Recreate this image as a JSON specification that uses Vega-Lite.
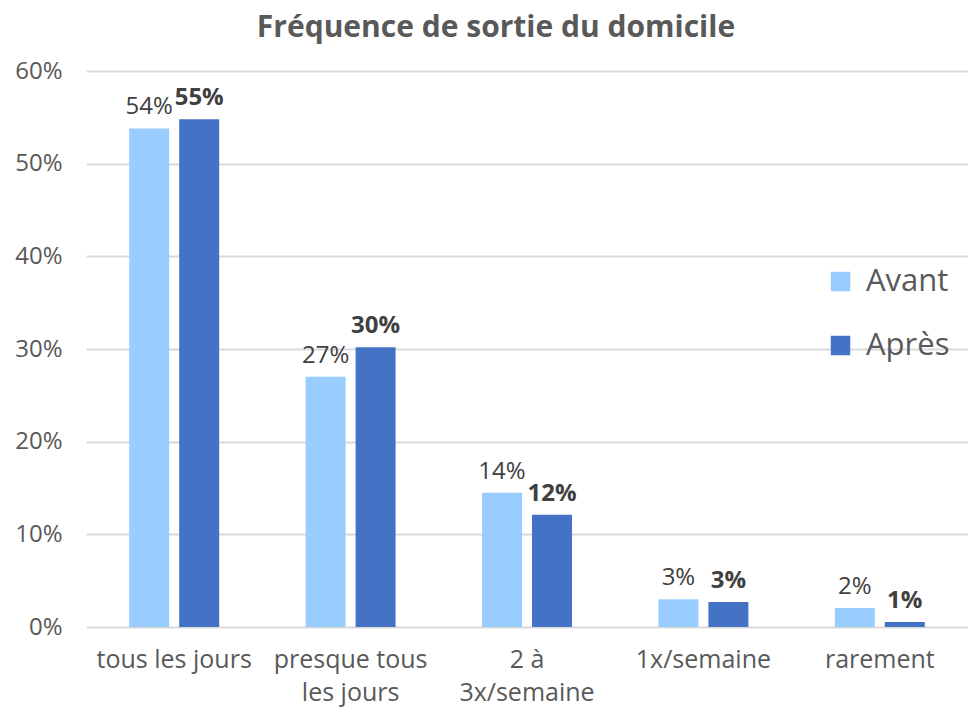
{
  "$schema": "https://vega.github.io/schema/vega-lite/v6.json",
  "width": 882,
  "height": 556,
  "autosize": {"type": "none"},
  "padding": {"left": 86, "top": 71, "right": 0, "bottom": 82},
  "background": "white",
  "title": {
    "text": "Fréquence de sortie du domicile",
    "font": "Open Sans",
    "fontSize": 30,
    "fontWeight": "bold",
    "color": "#595959",
    "anchor": "middle",
    "dx": -31,
    "offset": 16
  },
  "data": {
    "values": [
      {"categorie": "tous les jours", "serie": "Avant", "valeur": 0.538},
      {"categorie": "tous les jours", "serie": "Après", "valeur": 0.548},
      {"categorie": "presque tous les jours", "serie": "Avant", "valeur": 0.270},
      {"categorie": "presque tous les jours", "serie": "Après", "valeur": 0.302},
      {"categorie": "2 à 3x/semaine", "serie": "Avant", "valeur": 0.145},
      {"categorie": "2 à 3x/semaine", "serie": "Après", "valeur": 0.121},
      {"categorie": "1x/semaine", "serie": "Avant", "valeur": 0.030},
      {"categorie": "1x/semaine", "serie": "Après", "valeur": 0.027},
      {"categorie": "rarement", "serie": "Avant", "valeur": 0.0205},
      {"categorie": "rarement", "serie": "Après", "valeur": 0.0055}
    ]
  },
  "encoding": {
    "x": {
      "field": "categorie",
      "type": "nominal",
      "sort": ["tous les jours", "presque tous les jours", "2 à 3x/semaine", "1x/semaine", "rarement"],
      "scale": {"paddingInner": 0.49, "paddingOuter": 0.245},
      "axis": {
        "title": null,
        "labelAngle": 0,
        "labelFont": "Open Sans",
        "labelFontSize": 25,
        "labelColor": "#595959",
        "labelPadding": 20,
        "labelOverlap": false,
        "labelBound": false,
        "labelLineHeight": 33,
        "labelBaseline": "top",
        "labelExpr": "datum.value == 'presque tous les jours' ? ['presque tous', 'les jours'] : datum.value == '2 à 3x/semaine' ? ['2 à', '3x/semaine'] : datum.value",
        "ticks": false,
        "domain": false,
        "grid": false
      }
    },
    "xOffset": {
      "field": "serie",
      "type": "nominal",
      "sort": ["Avant", "Après"],
      "scale": {"paddingInner": 0.2}
    },
    "y": {
      "field": "valeur",
      "type": "quantitative",
      "scale": {"domain": [0, 0.6], "nice": false},
      "axis": {
        "title": null,
        "values": [0, 0.1, 0.2, 0.3, 0.4, 0.5, 0.6],
        "format": ".0%",
        "labelFont": "Open Sans",
        "labelFontSize": 24,
        "labelColor": "#595959",
        "labelPadding": 24,
        "ticks": false,
        "domain": false,
        "grid": true,
        "gridColor": "#d9d9d9",
        "gridWidth": 2
      }
    }
  },
  "layer": [
    {
      "mark": {"type": "bar"},
      "encoding": {
        "color": {
          "field": "serie",
          "type": "nominal",
          "sort": ["Avant", "Après"],
          "scale": {"domain": ["Avant", "Après"], "range": ["#99CCFF", "#4472C4"]},
          "legend": {
            "title": null,
            "orient": "none",
            "legendX": 739,
            "legendY": 195,
            "symbolType": "square",
            "symbolSize": 380,
            "symbolStrokeWidth": 0,
            "labelFont": "Open Sans",
            "labelFontSize": 31,
            "labelColor": "#595959",
            "labelOffset": 10,
            "rowPadding": 32
          }
        }
      }
    },
    {
      "transform": [{"filter": "datum.serie == 'Avant'"}],
      "mark": {"type": "text", "font": "Open Sans", "fontSize": 24, "color": "#404040", "baseline": "alphabetic", "dy": -14},
      "encoding": {
        "text": {"field": "valeur", "type": "quantitative", "format": ".0%"}
      }
    },
    {
      "transform": [{"filter": "datum.serie == 'Après'"}],
      "mark": {"type": "text", "font": "Open Sans", "fontSize": 24, "fontWeight": "bold", "color": "#404040", "baseline": "alphabetic", "dy": -14},
      "encoding": {
        "text": {"field": "valeur", "type": "quantitative", "format": ".0%"}
      }
    }
  ],
  "config": {
    "view": {"stroke": null}
  }
}
